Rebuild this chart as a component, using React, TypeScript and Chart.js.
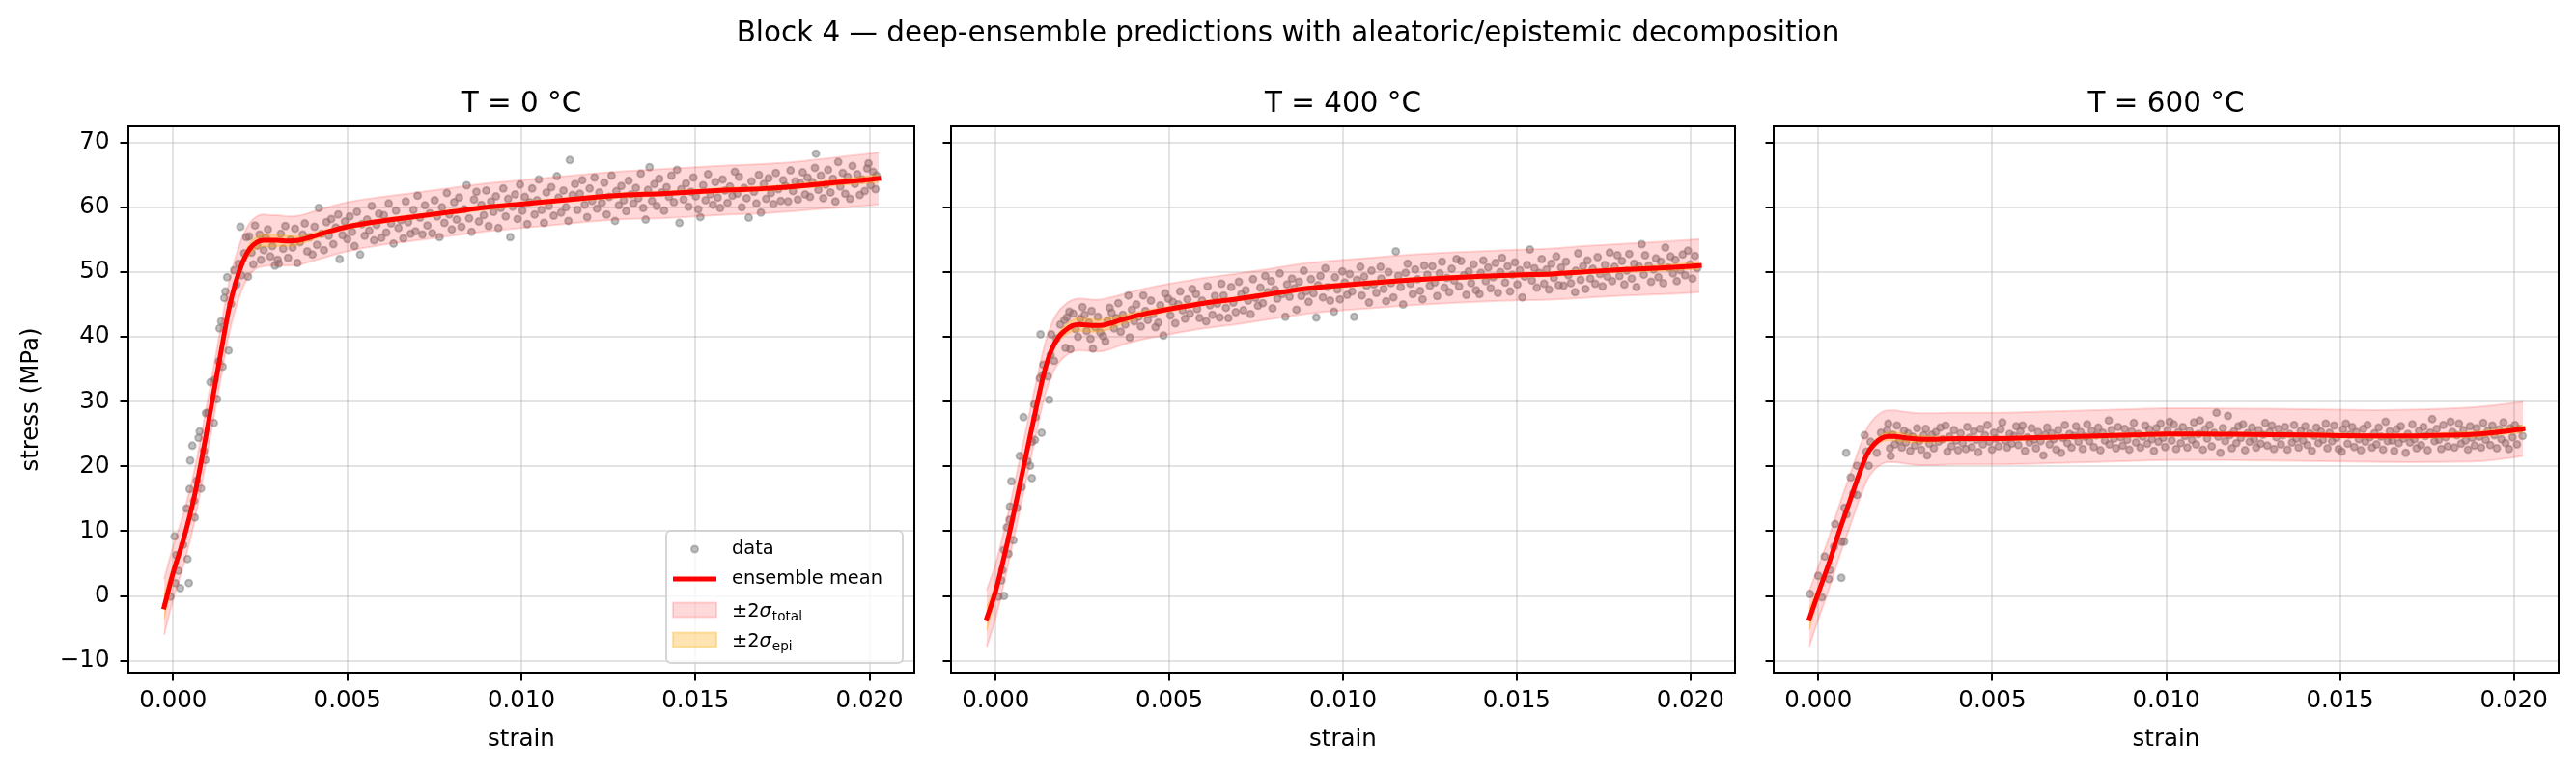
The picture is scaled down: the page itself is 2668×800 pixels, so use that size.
import { useEffect, useRef } from "react"
import { Chart, registerables } from "chart.js"

Chart.register(...registerables)

const W = 2668
const H = 800
const FONT = "'DejaVu Sans', sans-serif"

const figureTitle = "Block 4 — deep-ensemble predictions with aleatoric/epistemic decomposition"
const panelTitles = ["T = 0 °C", "T = 400 °C", "T = 600 °C"]
const xLabel = "strain"
const yLabel = "stress (MPa)"
const xTicks = [0, 0.005, 0.01, 0.015, 0.02]
const xTickLabels = ["0.000", "0.005", "0.010", "0.015", "0.020"]
const yTicks = [-10, 0, 10, 20, 30, 40, 50, 60, 70]
const yTickLabels = ["\u221210", "0", "10", "20", "30", "40", "50", "60", "70"]
const yMin = -11.83
const yMax = 72.49

// all strain values below are given in units of 1e-3

// prediction grid, shared by the three panels
const predStrain = [-0.26, 0, 0.3, 0.6, 0.9, 1.2, 1.4, 1.6, 1.8, 2.0, 2.2, 2.4, 2.6, 2.8, 3.0, 3.3, 3.6, 4.0, 4.5, 5.0, 6.0, 7.0, 8.0, 9.0, 10.0, 11.0, 12.0, 13.0, 14.0, 15.0, 16.0, 17.0, 18.0, 19.0, 20.0, 20.26]

// ensemble mean and 2-sigma half widths (MPa)
const t0Mean = [-1.7, 3.6, 8.8, 15.2, 23.5, 32.5, 38.5, 44.3, 48.5, 51.6, 53.6, 54.6, 54.9, 54.9, 54.9, 54.8, 54.9, 55.5, 56.3, 57.0, 57.9, 58.6, 59.3, 60.0, 60.5, 61.0, 61.5, 61.9, 62.1, 62.4, 62.7, 62.9, 63.3, 63.8, 64.3, 64.45]
const t0Total = [4.3, 4.1, 4.0, 4.0, 4.0, 4.0, 4.0, 4.0, 4.0, 4.0, 4.0, 4.0, 4.0, 3.9, 3.9, 3.8, 3.8, 3.8, 3.8, 3.8, 3.7, 3.7, 3.7, 3.7, 3.7, 3.7, 3.7, 3.7, 3.8, 3.8, 3.8, 3.8, 3.8, 3.9, 4.0, 4.0]
const t0Epi = [1.9, 1.1, 0.6, 0.4, 0.4, 0.4, 0.45, 0.5, 0.6, 0.7, 0.8, 0.9, 0.95, 0.95, 0.9, 0.8, 0.65, 0.5, 0.4, 0.35, 0.35, 0.35, 0.35, 0.35, 0.35, 0.35, 0.35, 0.35, 0.35, 0.35, 0.35, 0.35, 0.4, 0.45, 0.55, 0.6]

const t400Mean = [-3.5, 0.8, 7.4, 14.8, 22.4, 29.9, 34.6, 37.9, 39.9, 41.0, 41.7, 41.9, 41.85, 41.75, 41.75, 42.1, 42.6, 43.2, 43.8, 44.3, 45.2, 45.9, 46.7, 47.5, 48.0, 48.4, 48.8, 49.1, 49.35, 49.55, 49.7, 50.05, 50.35, 50.6, 50.9, 51.0]
const t400Total = [4.4, 4.2, 4.0, 4.0, 4.0, 4.0, 4.0, 4.0, 4.0, 4.0, 4.0, 4.0, 4.0, 4.0, 4.0, 4.0, 3.9, 3.9, 3.9, 3.9, 3.9, 3.9, 3.9, 3.9, 3.9, 3.9, 3.9, 3.9, 3.9, 3.9, 3.95, 4.0, 4.0, 4.05, 4.1, 4.1]
const t400Epi = [1.8, 1.0, 0.5, 0.4, 0.4, 0.4, 0.45, 0.5, 0.6, 0.75, 0.9, 1.0, 1.0, 1.0, 0.95, 0.85, 0.7, 0.55, 0.45, 0.4, 0.35, 0.35, 0.35, 0.35, 0.35, 0.35, 0.35, 0.35, 0.35, 0.35, 0.35, 0.35, 0.4, 0.45, 0.5, 0.55]

const t600Mean = [-3.5, 0.5, 5.0, 10.0, 14.6, 19.2, 21.9, 23.4, 24.3, 24.65, 24.65, 24.5, 24.35, 24.25, 24.2, 24.2, 24.25, 24.3, 24.3, 24.3, 24.4, 24.55, 24.7, 24.85, 25.0, 25.0, 24.95, 24.9, 24.85, 24.75, 24.7, 24.7, 24.8, 25.0, 25.6, 25.8]
const t600Total = [4.3, 4.1, 4.0, 4.0, 4.0, 4.0, 4.0, 4.0, 4.0, 4.0, 4.0, 4.0, 4.0, 4.0, 4.0, 4.0, 4.0, 4.0, 4.0, 4.0, 4.0, 4.0, 4.0, 4.0, 4.0, 4.0, 4.0, 4.0, 4.0, 4.0, 4.0, 4.05, 4.1, 4.2, 4.2, 4.2]
const t600Epi = [1.6, 0.9, 0.5, 0.4, 0.4, 0.4, 0.45, 0.5, 0.55, 0.6, 0.65, 0.65, 0.6, 0.55, 0.5, 0.45, 0.4, 0.35, 0.35, 0.35, 0.35, 0.35, 0.35, 0.35, 0.35, 0.35, 0.35, 0.35, 0.35, 0.35, 0.35, 0.35, 0.4, 0.45, 0.5, 0.55]

// measured points [strain, stress]
const t0Points: [number, number][] = [
  [-0.08, -0.1], [0.04, 9.2], [0.06, 2.0], [0.09, 6.3], [0.15, 3.9], [0.2, 1.2], [0.29, 7.9], [0.38, 13.5], [0.41, 5.7], [0.45, 2.0],
  [0.47, 16.5], [0.49, 20.9], [0.55, 23.2], [0.6, 14.7], [0.62, 12.1], [0.68, 17.8], [0.73, 24.4], [0.76, 25.4], [0.8, 16.6], [0.88, 22.4],
  [0.93, 21.0], [0.94, 28.2], [0.99, 28.3], [1.07, 33.0], [1.17, 26.7], [1.2, 33.4], [1.26, 30.4], [1.31, 36.2], [1.33, 41.3], [1.38, 42.4],
  [1.42, 35.4], [1.47, 46.0], [1.5, 47.0], [1.55, 49.2], [1.59, 37.9], [1.66, 45.1], [1.75, 50.3], [1.82, 48.1], [1.88, 51.3], [1.93, 57.0],
  [1.96, 49.5], [2.04, 52.9], [2.1, 55.4], [2.15, 49.3], [2.18, 55.5], [2.25, 53.0], [2.3, 51.2], [2.35, 57.2], [2.41, 54.1], [2.48, 55.8],
  [2.52, 51.9], [2.6, 53.4], [2.66, 55.3], [2.72, 56.6], [2.79, 52.4], [2.85, 54.0], [2.92, 51.0], [3.0, 51.9], [3.03, 51.3], [3.09, 55.9],
  [3.16, 53.6], [3.22, 57.1], [3.3, 52.2], [3.37, 55.0], [3.43, 53.8], [3.5, 56.7], [3.57, 51.4], [3.64, 54.6], [3.72, 55.8], [3.78, 57.5],
  [3.85, 53.2], [3.92, 55.4], [4.0, 52.7], [4.06, 57.0], [4.13, 54.2], [4.18, 59.9], [4.26, 55.9], [4.33, 53.4], [4.4, 57.7], [4.47, 55.6],
  [4.54, 58.2], [4.6, 54.3], [4.67, 56.9], [4.74, 58.9], [4.78, 52.0], [4.86, 55.7], [4.93, 57.8], [5.0, 55.1], [5.07, 58.6], [5.14, 56.2],
  [5.21, 54.0], [5.28, 59.3], [5.37, 52.7], [5.42, 57.4], [5.5, 55.6], [5.57, 58.1], [5.63, 56.4], [5.7, 60.2], [5.77, 54.9], [5.84, 57.3],
  [5.91, 59.0], [5.98, 55.3], [6.05, 58.8], [6.12, 56.1], [6.19, 60.6], [6.26, 57.5], [6.33, 54.4], [6.4, 59.5], [6.47, 56.8], [6.54, 58.0],
  [6.61, 55.2], [6.68, 60.9], [6.75, 57.7], [6.82, 55.9], [6.9, 59.6], [6.96, 56.3], [7.02, 61.8], [7.09, 58.4], [7.16, 55.8], [7.23, 60.3],
  [7.3, 57.2], [7.37, 59.1], [7.44, 56.0], [7.51, 61.1], [7.58, 58.6], [7.65, 55.4], [7.72, 60.0], [7.79, 57.6], [7.86, 62.2], [7.93, 58.9],
  [8.0, 56.6], [8.07, 60.8], [8.14, 58.1], [8.21, 61.5], [8.28, 57.0], [8.36, 59.7], [8.43, 63.4], [8.5, 58.3], [8.57, 56.2], [8.64, 61.2],
  [8.71, 62.4], [8.78, 57.8], [8.85, 60.4], [8.92, 58.8], [8.99, 62.6], [9.06, 57.1], [9.13, 60.9], [9.2, 59.3], [9.27, 61.7], [9.34, 56.8],
  [9.41, 59.9], [9.48, 62.9], [9.55, 58.6], [9.62, 61.3], [9.68, 55.4], [9.75, 60.1], [9.82, 62.0], [9.89, 58.2], [9.96, 63.5], [10.03, 59.5],
  [10.1, 61.6], [10.17, 57.4], [10.24, 60.8], [10.31, 62.9], [10.38, 58.9], [10.45, 61.1], [10.5, 64.3], [10.58, 59.6], [10.65, 57.6], [10.72, 62.3],
  [10.79, 60.2], [10.86, 63.1], [10.93, 58.7], [11.02, 64.8], [11.07, 61.5], [11.14, 59.2], [11.21, 62.6], [11.28, 60.0], [11.35, 57.9], [11.39, 67.3],
  [11.47, 61.9], [11.54, 63.6], [11.61, 59.6], [11.68, 62.1], [11.75, 64.2], [11.82, 60.4], [11.89, 58.5], [11.96, 62.9], [12.03, 61.0], [12.1, 64.6],
  [12.17, 59.8], [12.24, 62.3], [12.31, 60.7], [12.38, 63.8], [12.45, 58.9], [12.52, 61.6], [12.59, 64.9], [12.69, 57.9], [12.73, 62.5], [12.8, 60.3],
  [12.87, 63.3], [12.94, 61.1], [13.01, 59.4], [13.08, 64.1], [13.15, 62.0], [13.22, 60.6], [13.29, 63.0], [13.36, 61.4], [13.43, 65.2], [13.5, 59.9],
  [13.57, 58.1], [13.64, 62.7], [13.68, 66.2], [13.75, 61.0], [13.82, 63.6], [13.89, 60.2], [13.96, 64.4], [14.03, 62.3], [14.1, 59.5], [14.17, 63.1],
  [14.24, 61.6], [14.31, 64.9], [14.38, 60.8], [14.47, 65.8], [14.54, 57.6], [14.59, 62.8], [14.66, 61.2], [14.73, 63.7], [14.8, 60.1], [14.87, 62.4],
  [14.94, 64.6], [15.01, 61.7], [15.08, 59.7], [15.14, 58.5], [15.22, 63.4], [15.29, 61.1], [15.36, 65.1], [15.43, 62.0], [15.5, 60.4], [15.57, 63.9],
  [15.64, 61.5], [15.71, 59.9], [15.78, 64.3], [15.85, 62.6], [15.92, 60.7], [15.99, 63.2], [16.06, 61.8], [16.13, 65.5], [16.2, 62.1], [16.25, 64.7],
  [16.33, 60.0], [16.4, 63.0], [16.47, 61.4], [16.53, 58.4], [16.61, 64.0], [16.68, 62.4], [16.75, 60.6], [16.82, 65.0], [16.88, 59.2], [16.96, 63.6],
  [17.03, 61.3], [17.1, 64.5], [17.17, 62.2], [17.24, 60.5], [17.31, 65.3], [17.38, 62.8], [17.45, 61.0], [17.52, 64.2], [17.59, 63.3], [17.66, 60.9],
  [17.73, 65.7], [17.8, 62.5], [17.87, 64.0], [17.94, 61.2], [18.01, 63.7], [18.08, 65.4], [18.15, 62.0], [18.22, 64.6], [18.29, 61.6], [18.36, 63.9],
  [18.43, 66.1], [18.46, 68.3], [18.53, 62.7], [18.6, 64.9], [18.67, 61.4], [18.74, 63.5], [18.81, 65.8], [18.88, 62.3], [18.95, 64.4], [19.02, 60.9],
  [19.1, 67.0], [19.16, 63.2], [19.23, 65.3], [19.3, 62.1], [19.37, 64.7], [19.44, 61.3], [19.51, 66.4], [19.58, 63.6], [19.65, 65.1], [19.72, 61.9],
  [19.79, 64.3], [19.86, 62.5], [19.93, 66.0], [19.97, 66.8], [20.03, 63.4], [20.1, 65.5], [20.17, 62.8], [20.2, 64.9],
]

const t400Points: [number, number][] = [
  [0.08, -0.1], [0.16, 2.4], [0.19, 4.0], [0.24, 0.0], [0.24, 7.1], [0.32, 10.6], [0.37, 6.5], [0.4, 11.8], [0.41, 13.8], [0.45, 17.7],
  [0.51, 8.6], [0.61, 13.6], [0.69, 21.6], [0.75, 16.8], [0.8, 27.6], [0.92, 20.8], [0.99, 20.1], [1.04, 18.2], [1.05, 23.8], [1.11, 29.6],
  [1.13, 24.1], [1.15, 27.6], [1.27, 33.6], [1.29, 40.4], [1.32, 25.2], [1.35, 34.1], [1.37, 35.7], [1.5, 33.9], [1.54, 30.3], [1.58, 37.2],
  [1.6, 40.4], [1.68, 36.3], [1.75, 39.7], [1.86, 41.9], [1.98, 42.6], [2.01, 38.3], [2.05, 43.0], [2.12, 43.9], [2.15, 38.1], [2.23, 43.6],
  [2.3, 41.2], [2.37, 40.0], [2.44, 42.8], [2.5, 44.6], [2.56, 43.4], [2.62, 40.9], [2.68, 42.2], [2.73, 39.7], [2.76, 44.0], [2.8, 38.2],
  [2.87, 41.5], [2.94, 43.1], [3.01, 40.7], [3.09, 40.1], [3.16, 39.3], [3.22, 42.5], [3.28, 44.5], [3.34, 43.7], [3.41, 41.3], [3.47, 42.9],
  [3.53, 45.2], [3.6, 40.8], [3.66, 43.4], [3.73, 41.9], [3.82, 46.4], [3.86, 39.9], [3.92, 44.2], [3.99, 42.4], [4.05, 45.0], [4.12, 43.1],
  [4.18, 41.6], [4.25, 46.4], [4.31, 44.0], [4.38, 42.6], [4.47, 45.6], [4.53, 43.5], [4.6, 41.5], [4.68, 42.2], [4.74, 44.9], [4.83, 40.2],
  [4.88, 46.7], [4.97, 45.9], [5.03, 43.3], [5.1, 45.4], [5.17, 42.1], [5.26, 45.0], [5.31, 47.0], [5.38, 44.1], [5.45, 42.8], [5.52, 45.8],
  [5.59, 43.6], [5.66, 47.4], [5.77, 46.6], [5.8, 44.3], [5.87, 42.9], [5.94, 45.6], [6.06, 42.4], [6.1, 47.8], [6.17, 44.9], [6.24, 43.4],
  [6.31, 46.3], [6.38, 45.1], [6.45, 43.0], [6.5, 48.2], [6.56, 46.4], [6.63, 44.5], [6.7, 42.9], [6.78, 47.7], [6.84, 45.3], [6.91, 43.8],
  [7.0, 48.5], [7.07, 46.6], [7.13, 44.1], [7.2, 47.2], [7.27, 45.6], [7.34, 43.5], [7.41, 48.9], [7.48, 46.0], [7.55, 44.8], [7.62, 47.6],
  [7.69, 45.2], [7.76, 49.4], [7.83, 46.9], [7.93, 48.6], [7.97, 44.4], [8.04, 47.3], [8.11, 45.9], [8.18, 49.8], [8.25, 46.6], [8.34, 43.1],
  [8.39, 48.1], [8.46, 46.2], [8.53, 49.0], [8.6, 47.5], [8.66, 44.2], [8.73, 48.5], [8.8, 46.3], [8.87, 50.2], [8.94, 47.0], [9.01, 45.4],
  [9.08, 48.9], [9.15, 46.7], [9.23, 43.0], [9.28, 48.0], [9.35, 49.4], [9.42, 46.1], [9.49, 50.6], [9.56, 47.7], [9.63, 45.6], [9.74, 43.9],
  [9.77, 49.2], [9.84, 47.3], [9.91, 45.8], [9.98, 50.1], [10.05, 48.4], [10.12, 46.5], [10.19, 49.7], [10.26, 47.0], [10.32, 43.1], [10.4, 48.8],
  [10.5, 50.8], [10.54, 46.4], [10.61, 49.3], [10.68, 47.9], [10.75, 45.3], [10.82, 50.2], [10.89, 48.1], [10.96, 46.8], [11.08, 50.8], [11.1, 49.0],
  [11.17, 47.4], [11.24, 45.5], [11.31, 50.0], [11.38, 48.3], [11.45, 46.1], [11.52, 53.2], [11.59, 49.4], [11.66, 47.7], [11.73, 45.0], [11.8, 49.9],
  [11.86, 51.3], [11.94, 48.2], [12.01, 46.6], [12.08, 50.4], [12.15, 48.9], [12.22, 47.1], [12.29, 45.8], [12.34, 51.0], [12.43, 49.6], [12.5, 47.9],
  [12.57, 50.9], [12.64, 48.4], [12.71, 46.3], [12.78, 49.8], [12.85, 51.6], [12.92, 47.6], [12.99, 49.1], [13.06, 46.9], [13.13, 50.5], [13.2, 48.7],
  [13.27, 52.0], [13.34, 47.8], [13.4, 51.7], [13.48, 49.5], [13.55, 46.5], [13.62, 50.1], [13.69, 48.3], [13.76, 51.2], [13.83, 47.2], [13.93, 46.6],
  [13.97, 49.9], [14.04, 51.8], [14.11, 48.6], [14.18, 50.7], [14.25, 47.5], [14.32, 49.2], [14.39, 51.4], [14.46, 46.8], [14.53, 50.0], [14.58, 52.2],
  [14.67, 48.4], [14.74, 50.9], [14.81, 47.0], [14.88, 49.6], [14.95, 51.5], [15.02, 48.1], [15.09, 50.3], [15.16, 46.1], [15.23, 49.3], [15.3, 51.1],
  [15.38, 53.5], [15.44, 48.7], [15.51, 50.6], [15.58, 47.6], [15.65, 49.9], [15.72, 52.0], [15.79, 48.2], [15.86, 50.4], [15.93, 47.3], [16.0, 51.3],
  [16.07, 49.1], [16.14, 52.4], [16.21, 48.0], [16.28, 50.7], [16.35, 47.9], [16.42, 51.6], [16.49, 49.5], [16.56, 48.3], [16.68, 46.9], [16.7, 50.2],
  [16.77, 52.9], [16.84, 48.8], [16.91, 50.9], [16.98, 47.4], [17.04, 51.8], [17.12, 49.0], [17.19, 50.5], [17.26, 48.2], [17.33, 52.3], [17.4, 49.7],
  [17.47, 47.8], [17.54, 51.1], [17.61, 49.3], [17.68, 53.0], [17.75, 48.6], [17.82, 50.8], [17.9, 52.6], [17.96, 49.4], [18.03, 51.7], [18.1, 48.1],
  [18.17, 50.2], [18.24, 52.8], [18.31, 49.0], [18.38, 51.3], [18.45, 47.7], [18.52, 50.9], [18.6, 54.3], [18.66, 49.6], [18.7, 52.6], [18.8, 51.0],
  [18.87, 48.5], [18.94, 50.4], [19.01, 52.1], [19.08, 49.2], [19.15, 51.6], [19.22, 48.3], [19.28, 53.8], [19.36, 50.7], [19.43, 52.4], [19.5, 49.8],
  [19.57, 51.9], [19.61, 48.6], [19.71, 50.3], [19.78, 52.7], [19.85, 49.5], [19.93, 53.3], [19.99, 51.2], [20.06, 49.0], [20.13, 52.5], [20.2, 50.6],
]

const t600Points: [number, number][] = [
  [-0.24, 0.3], [0.0, 3.1], [0.1, -0.2], [0.18, 6.1], [0.3, 2.6], [0.33, 4.0], [0.45, 7.6], [0.48, 11.1], [0.66, 8.4], [0.66, 2.8],
  [0.74, 8.4], [0.75, 13.6], [0.8, 22.1], [0.81, 12.6], [0.93, 18.3], [1.0, 15.8], [1.11, 15.6], [1.11, 20.1], [1.33, 24.8], [1.38, 22.3],
  [1.45, 20.1], [1.5, 23.8], [1.68, 22.1], [1.8, 25.2], [1.98, 25.6], [2.01, 26.6], [2.06, 22.8], [2.08, 21.6], [2.14, 24.9], [2.2, 23.4],
  [2.26, 26.3], [2.33, 24.0], [2.4, 22.9], [2.46, 25.5], [2.52, 23.7], [2.58, 25.1], [2.64, 22.4], [2.71, 24.6], [2.77, 23.2], [2.84, 25.9],
  [2.9, 23.9], [2.96, 22.6], [3.03, 24.8], [3.09, 25.8], [3.13, 21.7], [3.19, 23.5], [3.26, 24.9], [3.32, 22.8], [3.38, 25.3], [3.45, 23.8],
  [3.51, 26.0], [3.57, 24.2], [3.66, 26.3], [3.71, 22.3], [3.77, 24.6], [3.83, 23.1], [3.9, 25.6], [3.96, 24.0], [4.02, 22.5], [4.09, 25.1],
  [4.15, 23.6], [4.24, 22.7], [4.28, 26.1], [4.34, 24.4], [4.41, 23.0], [4.47, 25.4], [4.54, 24.1], [4.6, 22.2], [4.66, 25.8], [4.73, 23.4],
  [4.79, 24.8], [4.86, 26.4], [4.92, 23.8], [4.99, 22.6], [5.05, 25.2], [5.11, 24.3], [5.18, 23.1], [5.24, 25.7], [5.29, 26.8], [5.37, 24.0],
  [5.43, 22.9], [5.5, 25.0], [5.56, 23.5], [5.62, 24.7], [5.69, 26.2], [5.75, 23.3], [5.81, 25.4], [5.87, 26.3], [5.94, 22.4], [6.01, 24.5],
  [6.07, 23.7], [6.13, 25.9], [6.2, 24.1], [6.26, 22.8], [6.32, 25.3], [6.39, 23.9], [6.47, 21.7], [6.52, 24.9], [6.58, 26.0], [6.65, 23.4],
  [6.71, 25.1], [6.77, 24.2], [6.84, 22.6], [6.9, 25.6], [6.98, 22.1], [7.03, 24.4], [7.09, 26.4], [7.16, 23.6], [7.22, 25.0], [7.28, 22.9],
  [7.35, 24.7], [7.41, 26.2], [7.48, 23.8], [7.54, 25.3], [7.6, 22.7], [7.67, 24.6], [7.73, 26.5], [7.79, 23.9], [7.86, 25.5], [7.92, 23.0],
  [7.99, 24.8], [8.05, 26.0], [8.11, 22.5], [8.18, 25.2], [8.24, 24.0], [8.35, 27.1], [8.37, 23.4], [8.43, 25.6], [8.5, 24.3], [8.56, 22.8],
  [8.62, 26.1], [8.69, 24.5], [8.75, 23.2], [8.81, 25.8], [8.88, 24.1], [8.94, 22.6], [9.01, 25.4], [9.07, 26.7], [9.13, 23.7], [9.2, 25.0],
  [9.26, 22.9], [9.33, 24.6], [9.4, 26.3], [9.46, 23.5], [9.52, 25.7], [9.59, 24.2], [9.65, 22.4], [9.72, 25.9], [9.78, 23.8], [9.84, 26.6],
  [9.91, 24.4], [9.97, 23.0], [10.04, 25.6], [10.1, 26.9], [10.16, 24.0], [10.22, 26.5], [10.29, 22.7], [10.35, 25.3], [10.42, 23.6], [10.48, 26.1],
  [10.54, 24.7], [10.61, 22.9], [10.67, 25.5], [10.74, 24.1], [10.8, 26.8], [10.86, 23.4], [10.93, 25.0], [10.97, 27.1], [11.06, 22.6], [11.12, 25.7],
  [11.18, 24.3], [11.25, 26.4], [11.31, 23.1], [11.38, 25.2], [11.45, 28.3], [11.5, 24.6], [11.56, 22.1], [11.63, 25.9], [11.7, 23.9], [11.78, 27.8],
  [11.83, 24.8], [11.89, 22.8], [11.95, 25.4], [12.02, 23.6], [12.08, 26.2], [12.15, 24.4], [12.21, 26.5], [12.27, 22.5], [12.34, 25.1], [12.4, 23.8],
  [12.47, 26.0], [12.53, 24.2], [12.59, 22.9], [12.66, 25.6], [12.72, 23.5], [12.79, 24.9], [12.85, 26.7], [12.91, 23.2], [12.98, 25.3], [13.04, 26.3],
  [13.1, 22.7], [13.17, 24.5], [13.23, 25.8], [13.3, 23.4], [13.36, 24.8], [13.42, 26.1], [13.49, 22.6], [13.55, 25.0], [13.62, 23.7], [13.68, 26.4],
  [13.74, 24.3], [13.81, 22.9], [13.87, 25.5], [13.94, 24.0], [14.0, 26.2], [14.06, 23.3], [14.13, 25.1], [14.19, 22.4], [14.26, 24.7], [14.32, 26.0],
  [14.38, 23.6], [14.45, 25.4], [14.51, 24.1], [14.59, 26.6], [14.64, 22.8], [14.7, 25.2], [14.77, 23.9], [14.83, 26.3], [14.9, 24.4], [14.96, 22.7],
  [15.05, 22.3], [15.09, 25.7], [15.17, 26.6], [15.22, 23.5], [15.28, 24.9], [15.35, 26.1], [15.41, 23.0], [15.47, 25.3], [15.54, 24.2], [15.6, 22.5],
  [15.67, 25.8], [15.73, 23.8], [15.79, 26.4], [15.86, 24.5], [15.92, 22.9], [15.99, 25.1], [16.05, 23.4], [16.11, 26.0], [16.18, 24.6], [16.24, 22.6],
  [16.31, 26.9], [16.37, 23.9], [16.43, 25.4], [16.5, 24.0], [16.56, 22.4], [16.63, 25.7], [16.69, 23.6], [16.75, 26.2], [16.82, 24.3], [16.89, 22.1],
  [16.95, 25.0], [17.01, 23.7], [17.08, 26.5], [17.14, 24.2], [17.2, 22.8], [17.27, 25.5], [17.33, 23.3], [17.4, 26.1], [17.46, 24.7], [17.52, 22.5],
  [17.59, 25.2], [17.65, 27.3], [17.72, 23.9], [17.78, 25.8], [17.84, 24.1], [17.91, 22.7], [17.97, 26.4], [18.04, 24.5], [18.1, 23.1], [18.18, 26.9],
  [18.23, 25.3], [18.29, 22.9], [18.36, 24.8], [18.42, 26.6], [18.48, 23.5], [18.55, 25.6], [18.61, 24.0], [18.68, 22.6], [18.74, 26.2], [18.8, 24.4],
  [18.87, 23.2], [18.93, 25.9], [19.0, 24.6], [19.06, 22.9], [19.12, 26.7], [19.19, 24.1], [19.25, 25.5], [19.32, 23.3], [19.38, 26.3], [19.44, 24.8],
  [19.51, 22.8], [19.57, 25.7], [19.64, 24.2], [19.7, 26.8], [19.76, 23.6], [19.86, 22.7], [19.9, 25.9], [19.96, 24.5], [20.03, 26.4], [20.09, 23.4],
  [20.16, 25.8], [20.25, 24.7],
]

const legendItems = ["data", "ensemble mean", "total", "epi"]

const GRAY = "rgba(128,128,128,0.5)"
const RED = "#ff0000"
const PINK = "rgba(255,0,0,0.15)"
const ORANGE = "rgba(255,165,0,0.3)"
const GRID = "rgba(176,176,176,0.35)"

const TICK_PX = 24.5
const TITLE_PX = 29.4
const LEGEND_PX = 19.4

const plotTop = 131
const plotBottom = 697

const panels = [
  { title: panelTitles[0], points: t0Points, mean: t0Mean, total: t0Total, epi: t0Epi, left: 133, right: 947 },
  { title: panelTitles[1], points: t400Points, mean: t400Mean, total: t400Total, epi: t400Epi, left: 985, right: 1797 },
  { title: panelTitles[2], points: t600Points, mean: t600Mean, total: t600Total, epi: t600Epi, left: 1837, right: 2650 },
]

const span = predStrain[predStrain.length - 1] - predStrain[0]
const xMin = (predStrain[0] - 0.05 * span) / 1000
const xMax = (predStrain[predStrain.length - 1] + 0.05 * span) / 1000

function bandEdge(mean: number[], hw: number[], sign: number) {
  return predStrain.map((s, i) => ({ x: s / 1000, y: mean[i] + sign * hw[i] }))
}

function drawSigma(ctx: CanvasRenderingContext2D, x: number, y: number, sub: string) {
  ctx.textAlign = "left"
  ctx.textBaseline = "alphabetic"
  ctx.font = `${LEGEND_PX}px ${FONT}`
  ctx.fillText("±2", x, y)
  x += ctx.measureText("±2").width
  ctx.font = `italic ${LEGEND_PX}px ${FONT}`
  ctx.fillText("σ", x, y)
  x += ctx.measureText("σ").width + 1
  ctx.font = `${LEGEND_PX * 0.7}px ${FONT}`
  ctx.fillText(sub, x, y + 4)
}

function drawLegend(ctx: CanvasRenderingContext2D, ca: { right: number; bottom: number }) {
  const w = 245
  const h = 137
  const x0 = ca.right - 12 - w
  const y0 = ca.bottom - 10 - h
  ctx.beginPath()
  ctx.roundRect(x0, y0, w, h, 5)
  ctx.fillStyle = "rgba(255,255,255,0.8)"
  ctx.fill()
  ctx.strokeStyle = "rgba(204,204,204,0.8)"
  ctx.lineWidth = 2
  ctx.stroke()

  const hx0 = x0 + 7
  const hx1 = x0 + 52
  const tx = x0 + 68
  const rows = [19, 50, 82, 113].map((d) => y0 + d)

  ctx.beginPath()
  ctx.arc((hx0 + hx1) / 2, rows[0], 3.5, 0, Math.PI * 2)
  ctx.fillStyle = GRAY
  ctx.fill()
  ctx.strokeStyle = GRAY
  ctx.lineWidth = 2
  ctx.stroke()

  ctx.beginPath()
  ctx.moveTo(hx0, rows[1])
  ctx.lineTo(hx1, rows[1])
  ctx.strokeStyle = RED
  ctx.lineWidth = 5
  ctx.stroke()

  ;[PINK, ORANGE].forEach((c, k) => {
    ctx.beginPath()
    ctx.rect(hx0, rows[2 + k] - 7.5, hx1 - hx0, 15)
    ctx.fillStyle = c
    ctx.fill()
    ctx.strokeStyle = c
    ctx.lineWidth = 2
    ctx.stroke()
  })

  ctx.fillStyle = "#000"
  ctx.font = `${LEGEND_PX}px ${FONT}`
  ctx.textAlign = "left"
  ctx.textBaseline = "middle"
  ctx.fillText(legendItems[0], tx, rows[0])
  ctx.fillText(legendItems[1], tx, rows[1])
  drawSigma(ctx, tx, rows[2] + 7, legendItems[2])
  drawSigma(ctx, tx, rows[3] + 7, legendItems[3])
}

function Panel({ index }: { index: number }) {
  const canvasRef = useRef<HTMLCanvasElement>(null)

  useEffect(() => {
    if (!canvasRef.current) return
    const p = panels[index]
    const first = index === 0
    const font = { family: FONT, size: TICK_PX }

    const decor = {
      id: "decor",
      afterDraw(chart: Chart) {
        const { ctx, chartArea: ca } = chart
        ctx.save()
        ctx.strokeStyle = "#000"
        ctx.lineWidth = 2
        ctx.strokeRect(ca.left, ca.top, ca.right - ca.left, ca.bottom - ca.top)
        ctx.fillStyle = "#000"
        ctx.font = `${TITLE_PX}px ${FONT}`
        ctx.textAlign = "center"
        ctx.textBaseline = "alphabetic"
        ctx.fillText(p.title, (ca.left + ca.right) / 2, ca.top - 15)
        if (first) {
          ctx.fillText(figureTitle, W / 2, 43)
          drawLegend(ctx, ca)
        }
        ctx.restore()
      },
    }

    const chart = new Chart(canvasRef.current, {
      type: "line",
      data: {
        datasets: [
          {
            type: "scatter",
            label: "data",
            data: p.points.map(([s, v]) => ({ x: s / 1000, y: v })),
            pointRadius: 3.5,
            pointBorderWidth: 2,
            pointBackgroundColor: GRAY,
            pointBorderColor: GRAY,
            order: 5,
          },
          {
            label: "total hi",
            data: bandEdge(p.mean, p.total, 1),
            fill: "+1",
            backgroundColor: PINK,
            borderColor: PINK,
            borderWidth: 2,
            pointRadius: 0,
            cubicInterpolationMode: "monotone",
            order: 4,
          },
          {
            label: "total lo",
            data: bandEdge(p.mean, p.total, -1),
            fill: false,
            borderColor: PINK,
            borderWidth: 2,
            pointRadius: 0,
            cubicInterpolationMode: "monotone",
            order: 4,
          },
          {
            label: "epi hi",
            data: bandEdge(p.mean, p.epi, 1),
            fill: "+1",
            backgroundColor: ORANGE,
            borderColor: ORANGE,
            borderWidth: 1.5,
            pointRadius: 0,
            cubicInterpolationMode: "monotone",
            order: 3,
          },
          {
            label: "epi lo",
            data: bandEdge(p.mean, p.epi, -1),
            fill: false,
            borderColor: ORANGE,
            borderWidth: 1.5,
            pointRadius: 0,
            cubicInterpolationMode: "monotone",
            order: 3,
          },
          {
            label: "ensemble mean",
            data: predStrain.map((s, i) => ({ x: s / 1000, y: p.mean[i] })),
            fill: false,
            borderColor: RED,
            borderWidth: 5,
            borderCapStyle: "square",
            borderJoinStyle: "round",
            pointRadius: 0,
            cubicInterpolationMode: "monotone",
            order: 1,
          },
        ],
      },
      options: {
        animation: false,
        responsive: false,
        devicePixelRatio: 1,
        events: [],
        layout: {
          padding: { left: first ? 0 : p.left - 9, right: W - p.right, top: plotTop, bottom: 0 },
        },
        plugins: {
          legend: { display: false },
          tooltip: { enabled: false },
          title: { display: false },
        },
        scales: {
          x: {
            type: "linear",
            min: xMin,
            max: xMax,
            afterBuildTicks: (s: any) => {
              s.ticks = xTicks.map((value) => ({ value }))
            },
            afterFit: (s: any) => {
              s.height = H - plotBottom
            },
            ticks: {
              font,
              color: "#000",
              padding: 6,
              maxRotation: 0,
              autoSkip: false,
              callback: (_v: any, i: number) => xTickLabels[i],
            },
            grid: { color: GRID, lineWidth: 2, tickColor: "#000", tickLength: 8.5, tickWidth: 2 },
            border: { display: false },
            title: { display: true, text: xLabel, font, color: "#000", padding: { top: 0, bottom: 19 } },
          },
          y: {
            type: "linear",
            min: yMin,
            max: yMax,
            afterBuildTicks: (s: any) => {
              s.ticks = yTicks.map((value) => ({ value }))
            },
            afterFit: (s: any) => {
              s.width = first ? p.left : 9
            },
            ticks: {
              display: first,
              font,
              color: "#000",
              padding: 11,
              autoSkip: false,
              callback: (_v: any, i: number) => yTickLabels[i],
            },
            grid: { color: GRID, lineWidth: 2, tickColor: "#000", tickLength: 8.5, tickWidth: 2 },
            border: { display: false },
            title: { display: first, text: yLabel, font, color: "#000", padding: { top: 18, bottom: 0 } },
          },
        },
      },
      plugins: [decor],
    } as any)

    return () => chart.destroy()
  }, [index])

  return (
    <canvas
      ref={canvasRef}
      width={W}
      height={H}
      style={{ position: "absolute", left: 0, top: 0, width: W, height: H }}
    />
  )
}

export default function App() {
  useEffect(() => {
    document.body.style.margin = "0"
    document.body.style.background = "#fff"
  }, [])

  return (
    <div style={{ position: "relative", width: W, height: H, background: "#fff" }}>
      {panels.map((_, i) => (
        <Panel key={i} index={i} />
      ))}
    </div>
  )
}
